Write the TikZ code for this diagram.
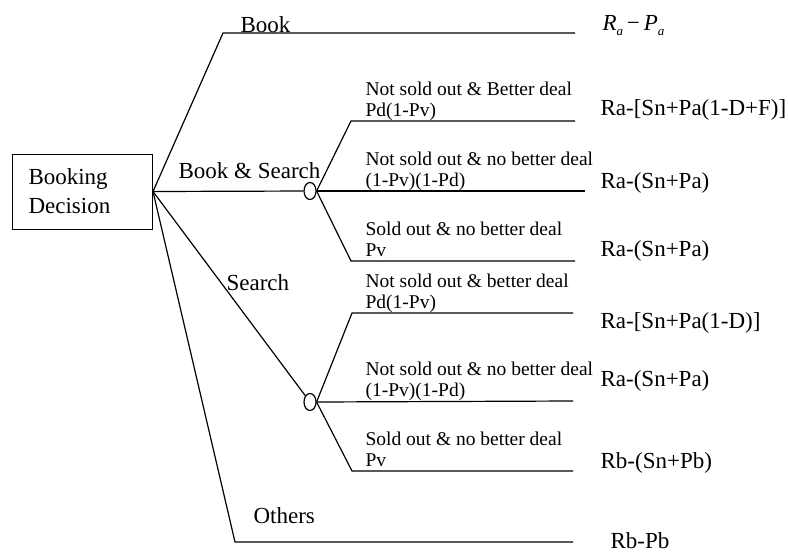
\documentclass[tikz,border=0pt]{standalone}
\usepackage{fontspec}
\setmainfont{Liberation Serif}
\usetikzlibrary{positioning,shapes.geometric}

\begin{document}
\begin{tikzpicture}[x=1pt,y=-1pt,line width=1.2pt,
    big/.style={font=\fontsize{23}{29}\selectfont, inner sep=0pt, anchor=base west},
    small/.style={font=\fontsize{19.5}{22}\selectfont, inner sep=0pt, anchor=base west},
    chance/.style={draw, ellipse, minimum width=12pt, minimum height=17pt, inner sep=0pt}]
    \useasboundingbox (0,0) rectangle (788,555);

    % Decision box
    \node[draw, line width=1pt, anchor=north west, minimum height=75pt, text width=108pt,
          inner xsep=16pt, align=left, font=\fontsize{23}{29}\selectfont]
          (dec) at (12,153.5) {Booking\\Decision};

    % Book
    \coordinate (bk1) at (223,33);
    \coordinate (bk2) at (575,33);
    \draw (dec.east) -- (bk1) -- (bk2);
    \node[big] (lbook) at (240,32) {Book};
    \node[big] (obook) at (602,30) {\itshape R\lower5pt\hbox{\fontsize{13}{13}\selectfont a}\,\upshape{}−\,\itshape P\lower5pt\hbox{\fontsize{13}{13}\selectfont a}};

    % Book & Search - chance node
    \node[chance] (c1) at (310,191) {};
    \draw (dec.east) -- (c1);
    \node[big] (lbs) at (178,178) {Book \& Search};

    \coordinate (a1) at (351,121);
    \coordinate (a1e) at (575,121);
    \draw (c1.east) -- (a1) -- (a1e);
    \node[small] at (365,95) {Not sold out \& Better deal};
    \node[small] at (365,116) {Pd(1-Pv)};
    \node[big] (oa1) at (600,115) {Ra-[Sn+Pa(1-D+F)]};

    \coordinate (a2e) at (585,191);
    \draw (c1.east) -- (a2e);
    \node[small] at (365,165) {Not sold out \& no better deal};
    \node[small] at (365,186) {(1-Pv)(1-Pd)};
    \node[big] (oa2) at (600,188) {Ra-(Sn+Pa)};

    \coordinate (a3) at (351,261);
    \coordinate (a3e) at (575,261);
    \draw (c1.east) -- (a3) -- (a3e);
    \node[small] at (365,235) {Sold out \& no better deal};
    \node[small] at (365,256) {Pv};
    \node[big] (oa3) at (600,256) {Ra-(Sn+Pa)};

    % Search - chance node
    \node[chance] (c2) at (310,402) {};
    \draw (dec.east) -- (c2);
    \node[big] (lsearch) at (226,290) {Search};

    \coordinate (b1) at (352,313);
    \coordinate (b1e) at (573,313);
    \draw (c2.east) -- (b1) -- (b1e);
    \node[small] at (365,287) {Not sold out \& better deal};
    \node[small] at (365,308) {Pd(1-Pv)};
    \node[big] (ob1) at (600,328) {Ra-[Sn+Pa(1-D)]};

    \coordinate (b2e) at (573,401);
    \draw (c2.east) -- (b2e);
    \node[small] at (365,375) {Not sold out \& no better deal};
    \node[small] at (365,396) {(1-Pv)(1-Pd)};
    \node[big] (ob2) at (600,386) {Ra-(Sn+Pa)};

    \coordinate (b3) at (352,471);
    \coordinate (b3e) at (573,471);
    \draw (c2.east) -- (b3) -- (b3e);
    \node[small] at (365,445) {Sold out \& no better deal};
    \node[small] at (365,466) {Pv};
    \node[big] (ob3) at (600,468) {Rb-(Sn+Pb)};

    % Others
    \coordinate (ot1) at (235,542);
    \coordinate (ot2) at (573,542);
    \draw (dec.east) -- (ot1) -- (ot2);
    \node[big] (lothers) at (253,523) {Others};
    \node[big] (oothers) at (610,548) {Rb-Pb};
\end{tikzpicture}
\end{document}
